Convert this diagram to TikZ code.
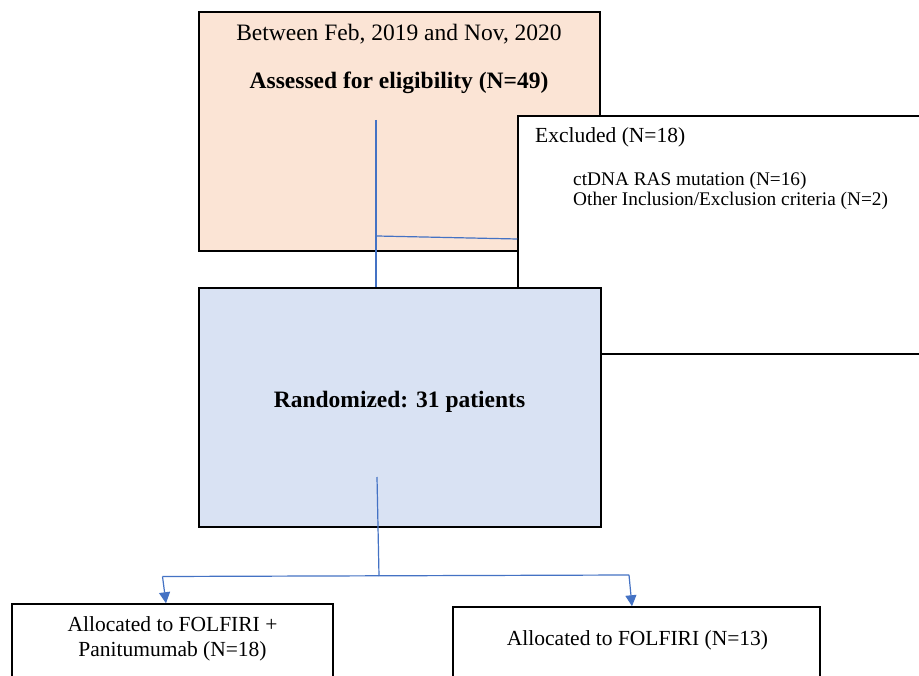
\documentclass[tikz,border=0pt]{standalone}
\usepackage{fontspec}
\setmainfont{Liberation Serif}
\usetikzlibrary{arrows.meta}
\definecolor{peach}{HTML}{FBE4D5}
\definecolor{paleblue}{HTML}{D9E2F3}
\definecolor{linkblue}{HTML}{4472C4}
\begin{document}
\begin{tikzpicture}[x=1pt,y=-1pt,
  box/.style={draw=black, line width=1.5pt, inner sep=0pt},
  bigtxt/.style={font=\fontsize{23.5}{28}\selectfont},
  midtxt/.style={font=\fontsize{21.5}{26}\selectfont},
  smalltxt/.style={font=\fontsize{19.3}{21}\selectfont},
  txt/.style={inner sep=0pt, anchor=base},
  link/.style={draw=linkblue, line width=1.2pt},
  arr/.style={link, -{Triangle[length=11pt,width=11pt]}}]
\useasboundingbox (0,0) rectangle (919,676);
\clip (0,0) rectangle (919,676);
\fill[white] (0,0) rectangle (919,676);
% boxes
\node[box, fill=peach, minimum width=401pt, minimum height=239pt] (assess) at (399.5,131.5) {};
\node[box, fill=white, minimum width=442pt, minimum height=238pt] (excl) at (739,235) {};
\node[box, fill=paleblue, minimum width=402pt, minimum height=239pt] (rand) at (400,407.5) {};
\node[box, fill=white, minimum width=321pt, minimum height=116pt] (armA) at (172.5,662) {};
\node[box, fill=white, minimum width=367pt, minimum height=113pt] (armB) at (636.5,663.5) {};
% texts
\node[txt, bigtxt] (t1) at (399,41) {Between Feb, 2019 and Nov, 2020};
\node[txt, bigtxt] (t2) at (399,89) {\textbf{Assessed for eligibility (N=49)}};
\node[txt, midtxt, anchor=base west] (t3) at (535,143) {Excluded (N=18)};
\node[txt, smalltxt, anchor=base west] (t4) at (573,186) {ctDNA RAS mutation (N=16)};
\node[txt, smalltxt, anchor=base west] (t5) at (573,205.5) {Other Inclusion/Exclusion criteria (N=2)};
\node[txt, bigtxt] (t6) at (399.5,408) {\textbf{Randomized: 31 patients}};
\node[txt, midtxt] (t7) at (172.5,631) {Allocated to FOLFIRI +};
\node[txt, midtxt] (t8) at (172.5,656) {Panitumumab (N=18)};
\node[txt, midtxt] (t9) at (637.5,645) {Allocated to FOLFIRI (N=13)};
% connectors
\coordinate (s1) at (376,120);
\coordinate (j1) at (377,236);
\draw[link] (s1) -- (s1 |- rand.north);
\draw[link] (j1) -- ([yshift=-4pt]excl.west);
\coordinate (r1) at (377,477);
\coordinate (rb) at (379,576);
\coordinate (bl) at (162.5,576.5);
\coordinate (br) at (629,575);
\draw[link] (r1) -- (rb);
\draw[link] (bl) -- (br);
\draw[arr] (bl) -- ([xshift=-6.5pt]armA.north);
\draw[arr] (br) -- ([xshift=-4.5pt]armB.north);
\end{tikzpicture}
\end{document}
